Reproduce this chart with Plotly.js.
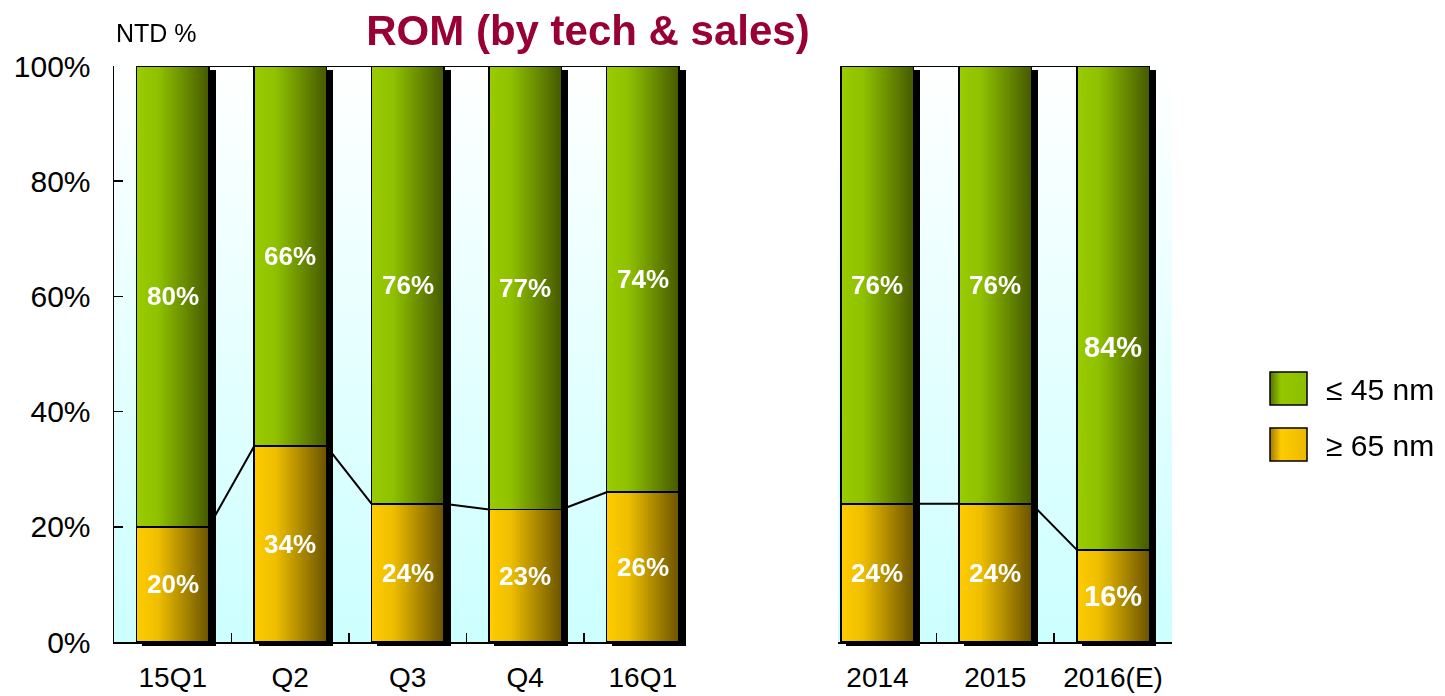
<!DOCTYPE html>
<html><head><meta charset="utf-8">
<script src="https://cdn.plot.ly/plotly-3.0.1.min.js"></script>
<style>html,body{margin:0;padding:0;background:#fff}#chart{width:1445px;height:696px}</style>
</head><body><div id="chart"></div>
<script>
// ---- data ----
const leftCategories = ['15Q1', 'Q2', 'Q3', 'Q4', '16Q1'];
const leftLow  = [20, 34, 24, 23, 26];   // ≥65 nm
const leftHigh = [80, 66, 76, 77, 74];   // ≤45 nm
const rightCategories = ['2014', '2015', '2016(E)'];
const rightLow  = [24, 24, 16];
const rightHigh = [76, 76, 84];
const yTickVals = [0, 20, 40, 60, 80, 100];
const yTickText = ['0%', '20%', '40%', '60%', '80%', '100%'];
const seriesNames = ['≤ 45 nm', '≥ 65 nm'];
const titleText = 'ROM (by tech & sales)';
const unitText = 'NTD %';

// ---- styling ----
const W = 1445, H = 696, T = 66, B = 54;
const px = v => v / W;
const py = v => (H - B - v) / (H - T - B);
const YELLOW = 'rgb(255, 204, 0)', GREEN = 'rgb(153, 204, 0)';
const LEG_Y = 'rgb(254, 204, 0)', LEG_G = 'rgb(152, 204, 0)';
const BAR_W = 0.615;
const FONT = 'Liberation Sans, Arial, sans-serif';

function barTraces(cats, low, high, xa, ya) {
  const common = {type: 'bar', x: cats, width: BAR_W, xaxis: xa, yaxis: ya,
    cliponaxis: false, showlegend: false, hoverinfo: 'skip'};
  return [
    Object.assign({}, common, {y: low, name: seriesNames[1], marker: {color: YELLOW, line: {color: 'black', width: 1.5}}}),
    Object.assign({}, common, {y: high, name: seriesNames[0], marker: {color: GREEN, line: {color: 'black', width: 1.5}}})
  ];
}

function connectors(low, high, xref, yref) {
  const s = [];
  for (let i = 0; i < low.length - 1; i++) {
    [[low[i], low[i + 1]], [low[i] + high[i], low[i + 1] + high[i + 1]]].forEach(([a, b]) => {
      s.push({type: 'line', xref, yref, x0: i + BAR_W / 2, y0: a, x1: i + 1 - BAR_W / 2, y1: b,
        line: {color: 'black', width: 2}, layer: 'below'});
    });
  }
  return s;
}

function labels(low, high, xref, yref, bigIndex) {
  const a = [];
  low.forEach((v, i) => {
    const big = i === bigIndex;
    const f = {color: 'white', size: big ? 29 : 26, family: FONT, weight: 700};
    a.push({xref, yref, x: i, y: v / 2, text: v + '%', showarrow: false, font: f});
    a.push({xref, yref, x: i, y: v + high[i] / 2, text: high[i] + '%', showarrow: false, font: f,
      yshift: big ? -39 : 0});
  });
  return a;
}

const traces = [
  ...barTraces(leftCategories, leftLow, leftHigh, 'x', 'y'),
  ...barTraces(rightCategories, rightLow, rightHigh, 'x2', 'y2')
];

const xCommon = {
  type: 'category', showline: true, linecolor: 'black', linewidth: 2,
  ticks: 'inside', ticklen: 9, tickwidth: 1.5, tickcolor: 'black', tickson: 'boundaries',
  tickfont: {size: 28, family: FONT, color: 'black'}, ticklabelstandoff: 9,
  showgrid: false, zeroline: false, fixedrange: true
};

const shapes = [
  ...connectors(leftLow, leftHigh, 'x', 'y'),
  ...connectors(rightLow, rightHigh, 'x2', 'y2'),
  {type: 'rect', xref: 'paper', yref: 'paper', x0: px(1270), x1: px(1307), y0: py(405), y1: py(372),
    fillcolor: LEG_G, line: {color: 'black', width: 1.5}, layer: 'above'},
  {type: 'rect', xref: 'paper', yref: 'paper', x0: px(1270), x1: px(1307), y0: py(461), y1: py(428),
    fillcolor: LEG_Y, line: {color: 'black', width: 1.5}, layer: 'above'}
];

const annotations = [
  ...labels(leftLow, leftHigh, 'x', 'y', -1),
  ...labels(rightLow, rightHigh, 'x2', 'y2', rightCategories.length - 1),
  {xref: 'paper', yref: 'paper', x: px(1324), y: py(389), xanchor: 'left', yanchor: 'middle',
    text: seriesNames[0], showarrow: false, font: {size: 30, family: FONT, color: 'black'}},
  {xref: 'paper', yref: 'paper', x: px(1324), y: py(445), xanchor: 'left', yanchor: 'middle',
    text: seriesNames[1], showarrow: false, font: {size: 30, family: FONT, color: 'black'}},
  {xref: 'paper', yref: 'paper', x: px(114), y: py(33), xanchor: 'left', yanchor: 'middle',
    text: unitText, showarrow: false, font: {size: 25, family: FONT, color: 'black'}}
];

const layout = {
  width: W, height: H,
  margin: {l: 0, r: 0, t: T, b: B, pad: 0},
  paper_bgcolor: 'white', plot_bgcolor: 'rgb(230,255,255)',
  barmode: 'stack', showlegend: false,
  title: {text: titleText, x: px(588), xanchor: 'center', yref: 'container', y: 1 - 30 / H, yanchor: 'middle',
    font: {size: 42, family: FONT, color: 'rgb(153,0,51)', weight: 700}},
  xaxis: Object.assign({}, xCommon, {domain: [px(114), px(686)], range: [-0.5, 4.368], anchor: 'y'}),
  yaxis: {domain: [0, 1], range: [0, 100], tickvals: yTickVals, ticktext: yTickText,
    showline: true, linecolor: 'black', linewidth: 1.5, ticks: 'inside', ticklen: 9, tickwidth: 1.5, tickcolor: 'black',
    tickfont: {size: 30, family: FONT, color: 'black'}, ticklabelstandoff: 16,
    showgrid: false, zeroline: false, anchor: 'x', fixedrange: true},
  xaxis2: Object.assign({}, xCommon, {domain: [px(838), px(1172)], range: [-0.335, 2.5], anchor: 'y2'}),
  yaxis2: {domain: [0, 1], range: [0, 100], visible: false, anchor: 'x2', fixedrange: true},
  shapes, annotations
};

const NS = 'http://www.w3.org/2000/svg';
function grad(defs, id, stops, vertical) {
  const g = document.createElementNS(NS, 'linearGradient');
  g.setAttribute('id', id);
  g.setAttribute('x1', '0'); g.setAttribute('y1', '0');
  g.setAttribute('x2', vertical ? '0' : '1'); g.setAttribute('y2', vertical ? '1' : '0');
  stops.forEach(([o, c]) => {
    const s = document.createElementNS(NS, 'stop');
    s.setAttribute('offset', o); s.setAttribute('stop-color', c);
    g.appendChild(s);
  });
  defs.appendChild(g);
}

const gd = document.getElementById('chart');
Plotly.newPlot(gd, traces, layout, {staticPlot: true, responsive: false}).then(() => {
  const svg = gd.querySelector('svg.main-svg');
  let defs = svg.querySelector('defs');
  if (!defs) { defs = document.createElementNS(NS, 'defs'); svg.insertBefore(defs, svg.firstChild); }
  grad(defs, 'gGreen', [[0, 'rgb(153,204,0)'], [0.3, 'rgb(143,193,0)'], [1, 'rgb(70,90,0)']], false);
  grad(defs, 'gYellow', [[0, 'rgb(255,204,0)'], [0.3, 'rgb(238,190,0)'], [1, 'rgb(108,84,0)']], false);
  grad(defs, 'gLegG', [[0, 'rgb(85,115,0)'], [0.3, 'rgb(150,200,0)'], [1, 'rgb(140,190,0)']], false);
  grad(defs, 'gLegY', [[0, 'rgb(160,120,0)'], [0.3, 'rgb(255,204,0)'], [1, 'rgb(235,185,0)']], false);
  grad(defs, 'gBg', [[0, 'rgb(255,255,255)'], [1, 'rgb(204,255,255)']], true);
  const f = document.createElementNS(NS, 'filter');
  f.setAttribute('id', 'barShadow');
  f.setAttribute('x', '-10%'); f.setAttribute('y', '-10%');
  f.setAttribute('width', '130%'); f.setAttribute('height', '130%');
  f.innerHTML = '<feOffset in="SourceAlpha" dx="6" dy="4" result="off"/>' +
    '<feMerge><feMergeNode in="off"/><feMergeNode in="SourceGraphic"/></feMerge>';
  defs.appendChild(f);

  const norm = c => (c || '').replace(/\s/g, '');
  gd.querySelectorAll('.barlayer path').forEach(p => {
    const c = norm(p.style.fill);
    if (c === norm(YELLOW)) p.style.fill = 'url(#gYellow)';
    else if (c === norm(GREEN)) p.style.fill = 'url(#gGreen)';
  });
  gd.querySelectorAll('.barlayer').forEach(g => g.setAttribute('filter', 'url(#barShadow)'));
  gd.querySelectorAll('.shapelayer path').forEach(p => {
    const c = norm(p.style.fill);
    if (c === norm(LEG_G)) p.style.fill = 'url(#gLegG)';
    else if (c === norm(LEG_Y)) p.style.fill = 'url(#gLegY)';
  });
  gd.querySelectorAll('rect.bg').forEach(r => {
    const w = parseFloat(r.getAttribute('width') || '0');
    if (w > 0 && w < W - 10) r.style.fill = 'url(#gBg)';
  });
});
</script>
</body></html>
